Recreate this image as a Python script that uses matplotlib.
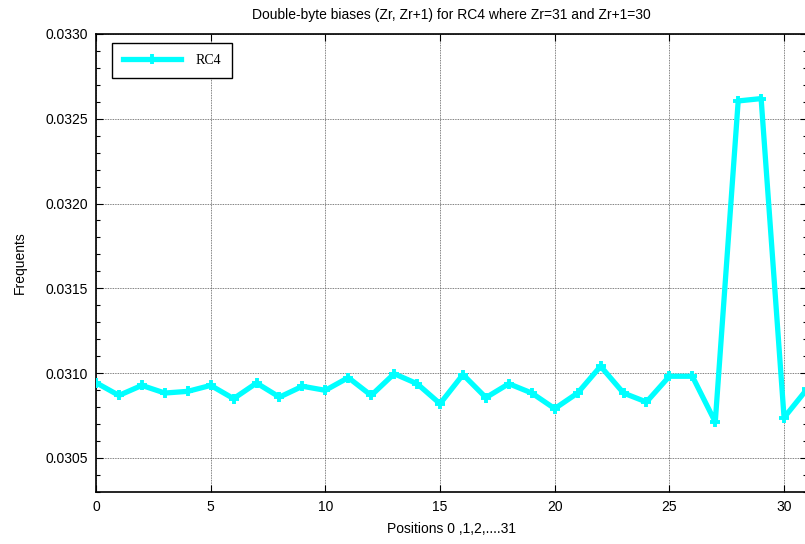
import numpy as np
import matplotlib.pyplot as plt
from matplotlib.ticker import MultipleLocator, FormatStrFormatter

# positions 0..31 and the measured frequencies
positions = list(range(32))
frequents = [0.030943, 0.030868, 0.030927, 0.030882, 0.030892, 0.030927,
             0.030849, 0.030941, 0.030858, 0.030922, 0.030898, 0.030973,
             0.030868, 0.030996, 0.030937, 0.030819, 0.030991, 0.030855,
             0.030937, 0.030882, 0.030790, 0.030882, 0.031040, 0.030882,
             0.030829, 0.030981, 0.030981, 0.030711, 0.032605, 0.032619,
             0.030737, 0.030905]

title = 'Double-byte biases (Zr, Zr+1) for RC4 where Zr=31 and Zr+1=30'

plt.rcParams['font.family'] = ['Liberation Sans', 'DejaVu Sans']

fig = plt.figure(figsize=(8.05, 5.44), dpi=100)
ax = fig.add_axes([96/805, (544-491.7)/544, 711/805, (491.7-34)/544])

ax.plot(positions, frequents, color='#00ffff', lw=3.8, marker='+',
        ms=7, mew=2.8, label='RC4', zorder=3)

ax.set_xlim(0, 31)
ax.set_ylim(0.0303, 0.0330)
ax.xaxis.set_major_locator(MultipleLocator(5))
ax.yaxis.set_major_locator(MultipleLocator(0.0005))
ax.yaxis.set_minor_locator(MultipleLocator(0.0001))
ax.yaxis.set_major_formatter(FormatStrFormatter('%.4f'))
ax.tick_params(which='both', direction='in', top=True, right=True,
               labelsize=10, colors='black', pad=6)
ax.tick_params(which='major', length=5, width=0.8)
ax.tick_params(which='minor', length=3, width=0.8)
ax.grid(True, which='major', color='#555555', linestyle=(0, (1, 1)), lw=0.6)
for s in ax.spines.values():
    s.set_linewidth(1.2)

ax.set_title(title, fontsize=10, pad=11)
ax.set_xlabel('Positions 0 ,1,2,....31', fontsize=10, labelpad=6)
ax.set_ylabel('Frequents', fontsize=10, labelpad=13)

leg = ax.legend(loc='upper left', bbox_to_anchor=(16/711, 1 - 9/457.7),
                borderaxespad=0,
                prop={'family': 'Liberation Serif', 'size': 10},
                fancybox=False, edgecolor='black', framealpha=1,
                handlelength=4.2, borderpad=0.8, handletextpad=1.0)
leg.get_frame().set_linewidth(1.0)

fig.savefig('out.png', dpi=100)
